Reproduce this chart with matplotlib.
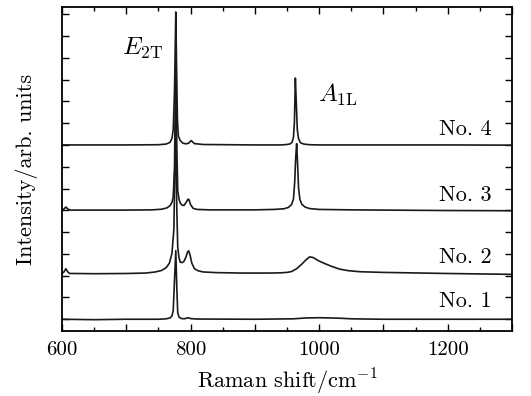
import numpy as np
import matplotlib
matplotlib.use("Agg")
import matplotlib.pyplot as plt
from matplotlib.ticker import MultipleLocator, FuncFormatter

plt.rcParams["font.family"] = "serif"
plt.rcParams["font.serif"] = ["cmr10"]
plt.rcParams["mathtext.fontset"] = "cm"
plt.rcParams["axes.formatter.use_mathtext"] = True

# spectra: (Raman shift, intensity above own baseline)
no1_x = [600, 650, 700, 750, 762, 768, 771, 773, 775, 777, 778.5, 780, 782, 785,
         790, 795, 797, 800, 810, 900, 960, 980, 1000, 1030, 1050, 1100, 1200, 1300]
no1_y = [0, -0.02, 0, 0, 0.02, 0.06, 0.15, 0.4, 1.8, 3.15, 1.5, 0.3, 0.1, 0.04,
         0.02, 0.06, 0.07, 0.03, 0.01, 0, 0.02, 0.06, 0.07, 0.05, 0.02, 0, 0, 0]

no2_x = [600, 603, 606, 609, 612, 620, 650, 700, 730, 745, 755, 762, 767, 771,
         774, 777, 778.5, 780, 782, 784, 787, 790, 793, 795, 797, 799, 802, 806,
         812, 820, 840, 880, 920, 940, 950, 957, 965, 972, 980, 985, 990, 1000,
         1010, 1020, 1032, 1045, 1064, 1100, 1200, 1300]
no2_y = [-0.02, 0.05, 0.2, 0.05, -0.02, -0.02, -0.03, -0.02, 0, 0.05, 0.12, 0.25,
         0.45, 0.9, 2.0, 7.4, 3.0, 1.2, 0.7, 0.5, 0.48, 0.55, 0.75, 0.95, 1.02,
         0.85, 0.45, 0.2, 0.1, 0.05, 0.02, 0, 0, 0.01, 0.03, 0.07, 0.2, 0.38,
         0.62, 0.74, 0.72, 0.55, 0.42, 0.3, 0.18, 0.11, 0.06, 0.03, -0.02, -0.06]

no3_x = [600, 603, 606, 609, 613, 650, 700, 740, 755, 763, 768, 771, 773, 775,
         777, 778.5, 780, 782, 784, 787, 790, 793, 796, 797.5, 800, 804, 810, 830,
         900, 930, 945, 952, 957, 960, 962, 963.5, 965, 966.5, 968, 970, 973,
         978, 985, 1000, 1050, 1100, 1200, 1300]
no3_y = [0, 0.05, 0.14, 0.05, 0, 0, 0, 0.01, 0.04, 0.1, 0.2, 0.35, 0.6, 2.0,
         7.0, 3.0, 0.9, 0.5, 0.32, 0.22, 0.22, 0.35, 0.5, 0.48, 0.25, 0.08, 0.03,
         0.01, 0.01, 0.03, 0.06, 0.12, 0.25, 0.5, 1.3, 2.4, 3.05, 2.1, 1.0, 0.5,
         0.27, 0.14, 0.07, 0.03, 0.01, 0, -0.02, -0.03]

no4_x = [600, 700, 750, 762, 768, 771, 773, 775, 777, 778, 779.5, 781, 784, 788,
         793, 797, 801, 806, 820, 900, 940, 950, 955, 958, 960, 961.5, 963,
         964.5, 966, 968, 971, 976, 985, 1000, 1100, 1200, 1300]
no4_y = [0, 0, 0.01, 0.04, 0.12, 0.3, 0.7, 2.5, 6.1, 4.0, 1.2, 0.4, 0.2, 0.08,
         0.05, 0.08, 0.2, 0.06, 0.02, 0, 0, 0.02, 0.05, 0.13, 0.35, 1.0, 3.07,
         1.9, 0.7, 0.28, 0.1, 0.04, 0.01, 0, 0, 0, -0.01]

offsets = [0.0, 2.12, 5.01, 8.0]
names = ["No. 1", "No. 2", "No. 3", "No. 4"]
label_y = [0.84, 2.86, 5.7, 8.7]

fig = plt.figure(figsize=(5.31, 3.96), dpi=100)
ax = fig.add_axes([0.1168, 0.1641, 0.8474, 0.8182])

spectra = [(no1_x, no1_y), (no2_x, no2_y), (no3_x, no3_y), (no4_x, no4_y)]
for (xs, ys), off in zip(spectra, offsets):
    ax.plot(xs, np.array(ys) + off, color="#1a1a1a", lw=1.2)

for name, ly in zip(names, label_y):
    ax.text(1268, ly, name, ha="right", va="center", fontsize=16)

ax.text(726, 12.45, r"$E_{2\mathrm{T}}$", ha="center", va="center", fontsize=18)
ax.text(1029, 10.28, r"$A_{1\mathrm{L}}$", ha="center", va="center", fontsize=18)

ax.set_xlim(600, 1300)
ax.set_ylim(-0.54, 14.33)
ax.xaxis.set_major_locator(MultipleLocator(100))
ax.xaxis.set_minor_locator(MultipleLocator(50))
ax.xaxis.set_major_formatter(
    FuncFormatter(lambda v, p: f"{int(v)}" if int(round(v)) % 200 == 0 else ""))
ax.yaxis.set_major_locator(MultipleLocator(1))
ax.set_yticklabels([])
ax.tick_params(which="both", direction="in", top=True, right=True, width=1.0)
ax.tick_params(which="major", length=5, labelsize=15, pad=7)
ax.tick_params(which="minor", length=3)
for s in ax.spines.values():
    s.set_linewidth(1.3)

ax.set_xlabel(r"Raman shift/cm$^{-1}$", fontsize=16, labelpad=6)
ax.set_ylabel("Intensity/arb. units", fontsize=16, labelpad=10)

fig.savefig("out.png", dpi=100)
